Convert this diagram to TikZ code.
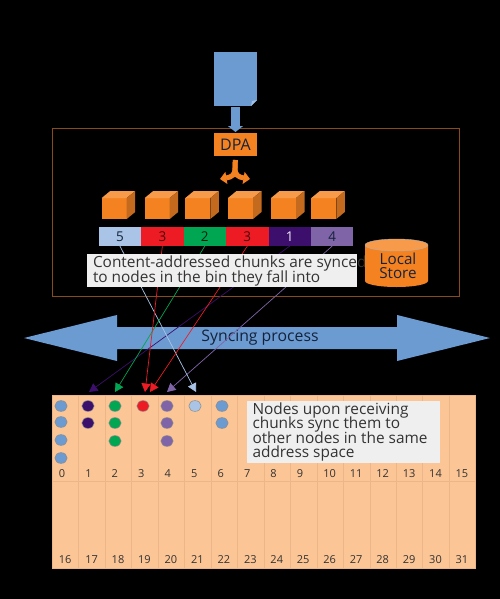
\documentclass[tikz,border=0pt]{standalone}
\usepackage{fontspec}
\setmainfont{Open Sans}
\usetikzlibrary{arrows.meta}
\lineskiplimit=-100pt
\definecolor{docblue}{HTML}{6C9BD2}
\definecolor{foldblue}{HTML}{A3C1E4}
\definecolor{orng}{HTML}{F58220}
\definecolor{orngdark}{HTML}{C46A1E}
\definecolor{orngtop}{HTML}{F79A4A}
\definecolor{framec}{HTML}{8A4B1C}
\definecolor{cella}{HTML}{A9C4E6}
\definecolor{cellr}{HTML}{ED1C24}
\definecolor{cellg}{HTML}{00A651}
\definecolor{cellp}{HTML}{3B0F6B}
\definecolor{cellm}{HTML}{8064A8}
\definecolor{peach}{HTML}{FBC596}
\definecolor{peachl}{HTML}{EDB689}
\definecolor{notebg}{HTML}{EFEFEF}
\definecolor{inkc}{HTML}{333333}
\definecolor{arrowink}{HTML}{14233A}
\tikzset{
  box/.style={rectangle,inner sep=0pt,outer sep=0pt},
  barcell/.style={box,minimum width=42.45pt,minimum height=19.4pt,font=\fontsize{13.5}{14}\selectfont},
  gridcell/.style={box,fill=peach,draw=peachl,line width=0.6pt,minimum width=26.46pt,minimum height=86.6pt},
  gridnum/.style={box,anchor=west,text=inkc,font=\fontsize{11}{12}\selectfont},
  note/.style={box,fill=notebg,anchor=north west,align=left,text=inkc},
  conn/.style={draw=#1,line width=0.7pt,-{Triangle[length=8.5pt,width=9pt,fill=#1]}},
  dot/.style={draw=black!45,line width=0.5pt,fill=#1},
}
\newcommand{\mycube}[2]{%
  \node[box,fill=orng,minimum width=25pt,minimum height=21pt,anchor=north west] (#2) at (#1,198) {};
  \fill[orngtop] (#2.north west) -- ++(8.5,-7) -- ++(25,0) -- (#2.north east) -- cycle;
  \fill[orngdark] (#2.north east) -- ++(8.5,-7) -- ++(0,21) -- (#2.south east) -- cycle;
}
\newcommand{\mydot}[3]{\path[dot=#3] (#1,#2) ellipse [x radius=6.2pt,y radius=5.4pt];}
\begin{document}
\begin{tikzpicture}[x=1pt,y=-1pt]
\useasboundingbox (0,0) rectangle (500,599);
\fill[black] (0,0) rectangle (500,599);
% frame
\node[box,draw=framec,line width=0.8pt,minimum width=407pt,minimum height=168pt,anchor=north west] (frame) at (52,128) {};
% document
\node[box,fill=docblue,minimum width=43pt,minimum height=54pt,anchor=north west] (doc) at (214,52) {};
\fill[black] (doc.south east) -- ++(-6,0) -- ++(6,-6) -- cycle;
\fill[foldblue] (doc.south east) ++(-6,0) -- ++(1,-5) -- ++(5,-1) -- cycle;
% DPA
\node[box,fill=orng,minimum width=43pt,minimum height=23pt,anchor=north west,text=arrowink,font=\fontsize{16}{18}\selectfont] (dpa) at (214,133) {DPA};
\draw[docblue,line width=9pt,-{Triangle[length=6pt,width=15pt,fill=docblue]},shorten <=1pt,shorten >=1pt] (doc.south) -- (dpa.north);
% fork
\coordinate (forkl) at (220,179);
\coordinate (forkr) at (250,179);
\draw[orng,line width=5pt,-{Triangle[length=6.5pt,width=12pt,fill=orng]},shorten <=4pt] (dpa.south) -- (235,168) .. controls (235,175) and (232,177) .. (forkl);
\draw[orng,line width=5pt,-{Triangle[length=6.5pt,width=12pt,fill=orng]},shorten <=4pt] (dpa.south) -- (235,168) .. controls (235,175) and (238,177) .. (forkr);
% cubes
\mycube{101.7}{q1}\mycube{144.7}{q2}\mycube{185.3}{q3}\mycube{228}{q4}\mycube{271}{q5}\mycube{311.3}{q6}
% bar
\foreach \i/\c/\t/\k in {1/cella/5/arrowink,2/cellr/3/black!70!cellr,3/cellg/2/black!80!cellg,4/cellr/3/black!70!cellr,5/cellp/1/white!85!cellm,6/cellm/4/arrowink}{
  \node[barcell,fill=\c,text=\k,anchor=north west] (b\i) at ({98.7+(\i-1)*42.45},226.7) {\t};
}
% big arrow
\path[fill=docblue] (24,338) -- (117,315) -- (117,327) -- (397,327) -- (397,315) -- (490,338) -- (397,361) -- (397,349) -- (117,349) -- (117,361) -- cycle;
\node[box,text=arrowink,font=\fontsize{15.8}{17}\selectfont] (sync) at (260,338) {Syncing process};
% grid
\foreach \i [evaluate=\i as \x using 52.3+\i*26.46] in {0,...,15}{
  \node[gridcell,anchor=north west] (g\i) at (\x,395) {};
  \node[gridnum] (n\i) at (\x+6.5,473.5) {\i};
}
\foreach \i [evaluate=\i as \x using 52.3+(\i-16)*26.46] in {16,...,31}{
  \node[gridcell,anchor=north west] (g\i) at (\x,481.6) {};
  \node[gridnum] (n\i) at (\x+6.5,560) {\i};
}
% dots
\mydot{61}{406}{docblue}\mydot{61}{422}{docblue}\mydot{61}{440}{docblue}\mydot{61}{458}{docblue}
\mydot{88}{406}{cellp}\mydot{88}{423}{cellp}
\mydot{115}{406}{cellg}\mydot{115}{423}{cellg}\mydot{115}{441}{cellg}
\mydot{143}{406}{cellr}
\mydot{167}{406}{cellm}\mydot{167}{423}{cellm}\mydot{167}{441}{cellm}
\mydot{195}{406}{cella}
\mydot{222}{406}{docblue}\mydot{222}{423}{docblue}
% connectors
\coordinate (t1) at (196,392);
\coordinate (t2) at (145,392);
\coordinate (t3) at (115,392);
\coordinate (t4) at (150,392);
\coordinate (t5) at (89,392);
\coordinate (t6) at (167,392);
\draw[conn=cellp] (b5.south) -- (t5);
\draw[conn=cellm] (b6.south) -- (t6);
\draw[conn=cella] (b1.south) -- (t1);
\draw[conn=cellg] (b3.south) -- (t3);
\draw[conn=cellr] (b2.south) -- (t2);
\draw[conn=cellr] (b4.south) -- (t4);
% note 1
\node[note,minimum width=270pt,minimum height=33pt] (n1box) at (86.7,254) {};
\node[box,anchor=north west,align=left,text=inkc,font=\fontsize{15.4}{14.8}\selectfont] (n1text) at (93,255.5) {Content-addressed chunks are synced\\to nodes in the bin they fall into};
% store
\fill[orng] (365,245) -- (365,281) arc[start angle=180,end angle=360,x radius=31.5pt,y radius=6pt] -- (428,245) -- cycle;
\path[fill=orngtop,draw=black!30,line width=0.4pt] (396.5,245) ellipse [x radius=31.5pt,y radius=6pt];
\node[box,align=center,text=arrowink,font=\fontsize{15.2}{14.2}\selectfont] (store) at (398,266) {Local\\Store};
% note 2
\node[note,minimum width=193pt,minimum height=62pt] (n2box) at (247,401) {};
\node[box,anchor=north west,align=left,text=inkc,font=\fontsize{15.4}{14.2}\selectfont] (n2text) at (252.5,403) {Nodes upon receiving\\chunks sync them to\\other nodes in the same\\address space};
\end{tikzpicture}
\end{document}
